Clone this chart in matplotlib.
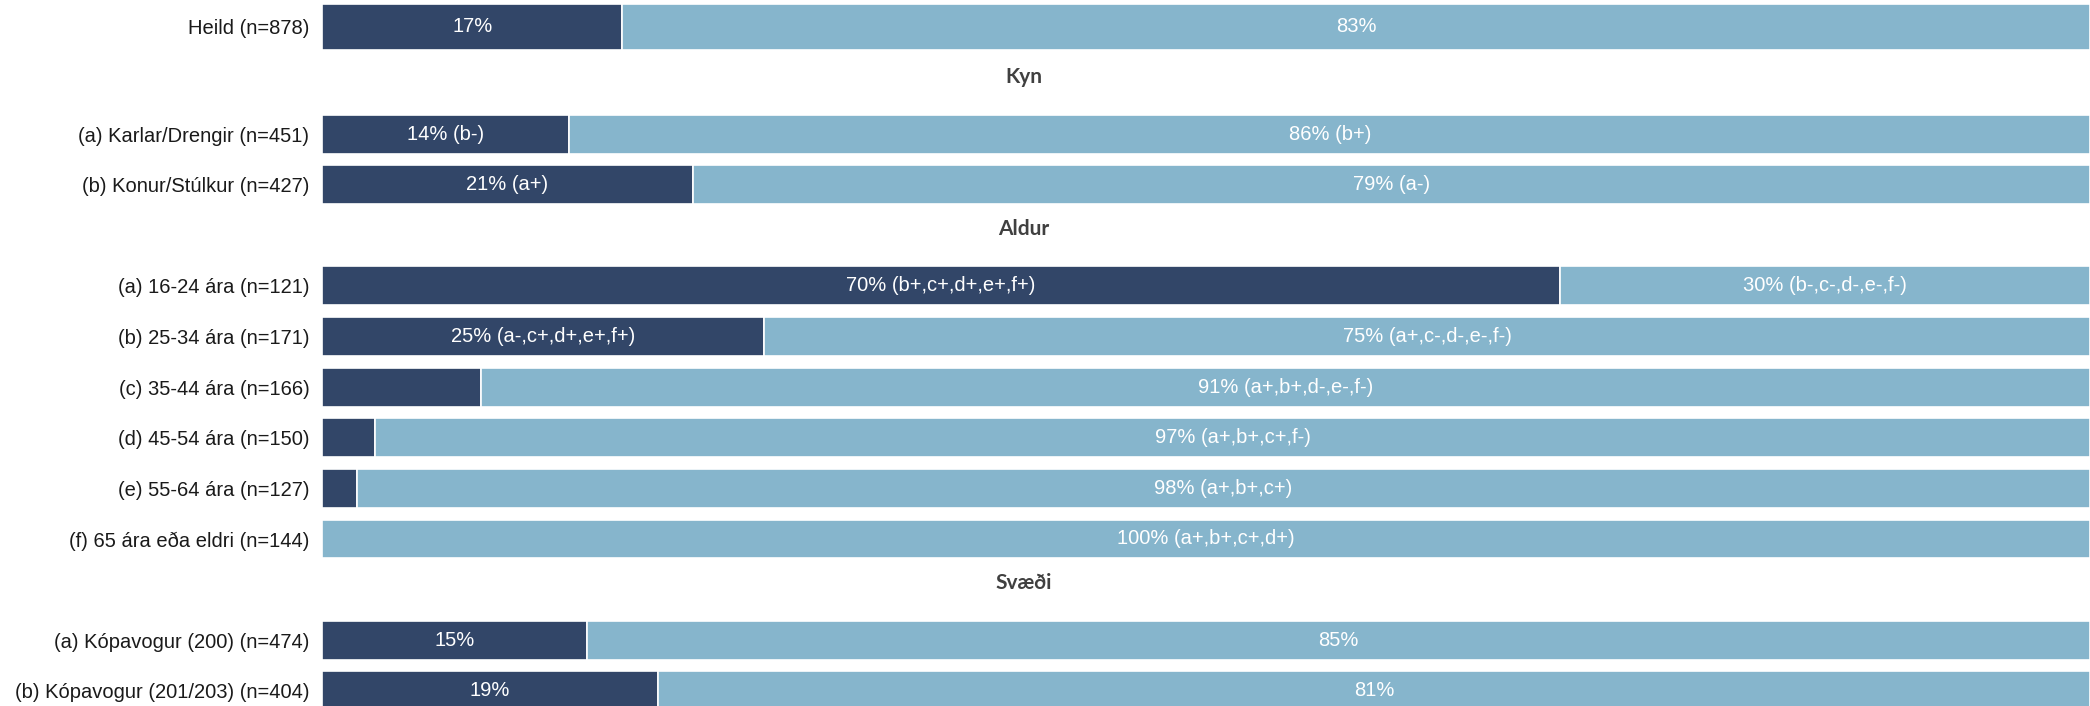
import matplotlib.pyplot as plt
import numpy as np

# hópar og flokkar
groups = ["", "Kyn", "Aldur", "Svæði"]
labels = [
    ["Heild (n=878)"],
    ["(a) Karlar/Drengir (n=451)", "(b) Konur/Stúlkur (n=427)"],
    ["(a) 16-24 ára (n=121)", "(b) 25-34 ára (n=171)", "(c) 35-44 ára (n=166)",
     "(d) 45-54 ára (n=150)", "(e) 55-64 ára (n=127)", "(f) 65 ára eða eldri (n=144)"],
    ["(a) Kópavogur (200) (n=474)", "(b) Kópavogur (201/203) (n=404)"],
]
yes_pct = [17, 14, 21, 70, 25, 9, 3, 2, 0, 15, 19]
no_pct = [83, 86, 79, 30, 75, 91, 97, 98, 100, 85, 81]
yes_sig = ["", "(b-)", "(a+)", "(b+,c+,d+,e+,f+)", "(a-,c+,d+,e+,f+)", "", "", "", "", "", ""]
no_sig = ["", "(b+)", "(a-)", "(b-,c-,d-,e-,f-)", "(a+,c-,d-,e-,f-)", "(a+,b+,d-,e-,f-)",
          "(a+,b+,c+,f-)", "(a+,b+,c+)", "(a+,b+,c+,d+)", "", ""]

DARK = "#324668"
LIGHT = "#86b5cc"

plt.rcParams['font.family'] = ['Liberation Sans', 'DejaVu Sans']

fig = plt.figure(figsize=(20.9, 7.06), dpi=100)
ax = fig.add_axes([0.154, 0.0, 0.846, 1.0])

# raðir: hvert nýtt hópsvæði fær auka bil og fyrirsögn
group_gap = [0, 2.12, 2.0, 2.0]
ypos, heights, headers = [], [], []
y = 0.0
for gi, grp in enumerate(labels):
    for j, lab in enumerate(grp):
        if gi > 0 and j == 0:
            y += group_gap[gi]
            headers.append((y - 1.13, groups[gi]))
        elif j > 0:
            y += 1.0
        ypos.append(y)
        heights.append(0.9 if gi == 0 else 0.77)

all_labels = [l for g in labels for l in g]
yes = np.array(yes_pct)
no = np.array(no_pct)

ax.barh(ypos, yes, height=heights, color=DARK, edgecolor="white", linewidth=1.2)
ax.barh(ypos, no, left=yes, height=heights, color=LIGHT, edgecolor="white", linewidth=1.2)

for i, yy in enumerate(ypos):
    if yes[i] >= 10:
        t = f"{yes[i]}%" + (f" {yes_sig[i]}" if yes_sig[i] else "")
        ax.text(yes[i] / 2, yy, t, ha="center", va="center", color="white", fontsize=14.5)
    if no[i] >= 10:
        t = f"{no[i]}%" + (f" {no_sig[i]}" if no_sig[i] else "")
        ax.text(yes[i] + no[i] / 2, yy, t, ha="center", va="center", color="white", fontsize=14.5)

blend = ax.get_yaxis_transform().__class__(fig.transFigure, ax.transData)
for hy, name in headers:
    ax.text(0.49, hy, name, ha="center", va="center", fontsize=15, fontweight="bold",
            color="#404040", family=["Lato", "DejaVu Sans"], transform=blend)

ax.set_yticks(ypos)
ax.set_yticklabels(all_labels, fontsize=14.5, color="#1a1a1a")
ax.tick_params(axis="y", length=0, pad=9)
ax.set_xticks([])
ax.set_xlim(0, 100)
ax.set_ylim(13.42, -0.53)
for s in ax.spines.values():
    s.set_visible(False)

fig.savefig("out.png", dpi=100)
